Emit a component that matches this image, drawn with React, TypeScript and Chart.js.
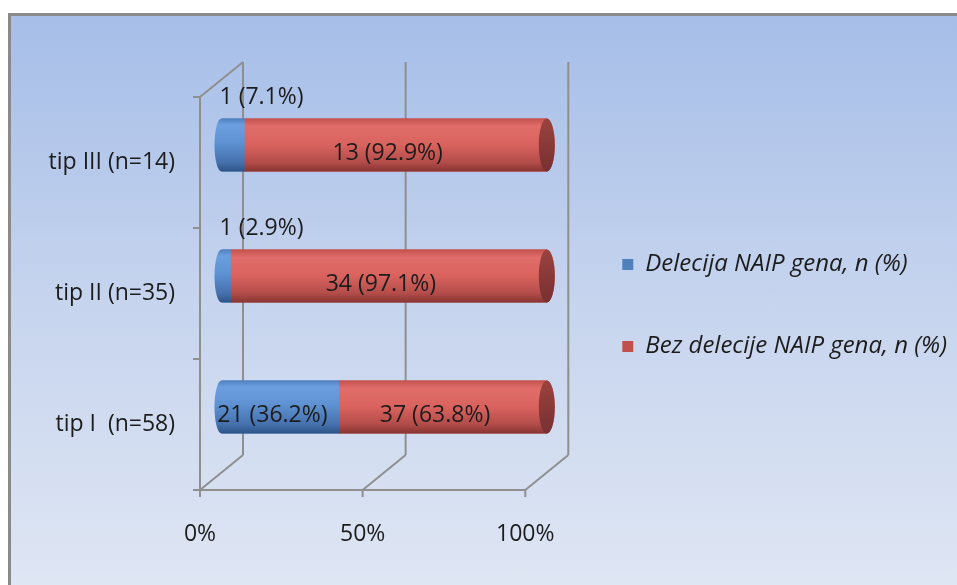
import React, { useEffect, useRef } from 'react';
import { Chart, registerables } from 'chart.js';

Chart.register(...registerables);

// ---------- data ----------
const categories = ['tip III (n=14)', 'tip II (n=35)', 'tip I  (n=58)'];
const seriesNames = ['Delecija NAIP gena, n (%)', 'Bez delecije NAIP gena, n (%)'];
const deletionCounts = [1, 1, 21];
const deletionPercents = [7.1, 2.9, 36.2];
const noDeletionCounts = [13, 34, 37];
const noDeletionPercents = [92.9, 97.1, 63.8];
const xTickValues = [0, 50, 100];

// ---------- styling ----------
const FONT = "'Open Sans', 'Noto Sans', sans-serif";
const TEXT = '#1c1c1c';
const DX = 21.5; // half depth of the 3D box (horizontal)
const DY = 17.5; // half depth of the 3D box (vertical)
const RX = 8; // cylinder end ellipse half width
const WALL = '#8f8f8f';

const seriesColors = ['#4f81bd', '#c0504d'];
const seriesGradients = [
  [
    [0, '#4f7fbe'],
    [0.12, '#6b9fdf'],
    [0.45, '#5e92d2'],
    [0.82, '#4672ae'],
    [1, '#2e5487'],
  ],
  [
    [0, '#c3524f'],
    [0.15, '#e06d69'],
    [0.5, '#d9625e'],
    [0.82, '#b44d4a'],
    [1, '#873532'],
  ],
];
const capGradients = [
  [
    [0, '#3f6aa3'],
    [1, '#2c4f80'],
  ],
  [
    [0, '#9a4340'],
    [1, '#773030'],
  ],
];

const countsBySeries = [deletionCounts, noDeletionCounts];
const percentsBySeries = [deletionPercents, noDeletionPercents];

const fmt = (c: number, p: number) => `${c} (${p.toFixed(1)}%)`;

const boxPlugin = {
  id: 'box3d',
  beforeDatasetsDraw(chart: any) {
    const { ctx, chartArea: a, scales } = chart;
    const x = scales.x;
    const y = scales.y;
    ctx.save();
    ctx.strokeStyle = WALL;
    ctx.lineWidth = 2;
    ctx.lineCap = 'butt';
    const line = (x1: number, y1: number, x2: number, y2: number) => {
      ctx.beginPath();
      ctx.moveTo(x1, y1);
      ctx.lineTo(x2, y2);
      ctx.stroke();
    };
    const pxs = xTickValues.map((v) => x.getPixelForValue(v));
    // back wall gridlines
    pxs.forEach((px) => line(px + DX, a.top - DY, px + DX, a.bottom - DY));
    // floor diagonals
    pxs.forEach((px) => line(px - DX, a.bottom + DY, px + DX, a.bottom - DY));
    // floor front edge
    line(pxs[0] - DX, a.bottom + DY, pxs[pxs.length - 1] - DX, a.bottom + DY);
    // left wall front edge and top diagonal
    line(a.left - DX, a.top + DY, a.left - DX, a.bottom + DY);
    line(a.left - DX, a.top + DY, a.left + DX, a.top - DY);
    // x tick marks
    pxs.forEach((px) => line(px - DX, a.bottom + DY - 1, px - DX, a.bottom + DY + 7));
    // y tick marks at category boundaries
    const n = chart.data.labels.length;
    for (let i = 0; i <= n; i++) {
      const yy = y.getPixelForValue(i - 0.5) + DY;
      line(a.left - DX - 7, yy, a.left - DX + 1, yy);
    }
    ctx.restore();
  },
  afterDatasetsDraw(chart: any) {
    const { ctx } = chart;
    const metas = chart.getSortedVisibleDatasetMetas();
    const n = chart.data.labels.length;
    ctx.save();
    for (let i = 0; i < n; i++) {
      let last: any = null;
      let lastIdx = 0;
      metas.forEach((meta: any, di: number) => {
        const el = meta.data[i];
        const p = el.getProps(['x', 'y', 'base', 'height'], true);
        const left = Math.min(p.base, p.x);
        const right = Math.max(p.base, p.x);
        const ry = p.height / 2;
        const top = p.y - ry;
        const bot = p.y + ry;
        const g = ctx.createLinearGradient(0, top, 0, bot);
        seriesGradients[di].forEach(([o, c]: any) => g.addColorStop(o, c));
        ctx.beginPath();
        if (di === 0) {
          ctx.moveTo(left, bot);
          ctx.ellipse(left, p.y, RX - 1, ry, 0, Math.PI / 2, (3 * Math.PI) / 2);
        } else {
          ctx.moveTo(left, bot);
          ctx.lineTo(left, top);
        }
        ctx.lineTo(right, top);
        ctx.ellipse(right, p.y, RX, ry, 0, -Math.PI / 2, Math.PI / 2);
        ctx.closePath();
        ctx.fillStyle = g;
        ctx.fill();
        last = p;
        lastIdx = di;
      });
      if (last) {
        const ry = last.height / 2;
        const right = Math.max(last.base, last.x);
        const g = ctx.createLinearGradient(0, last.y - ry, 0, last.y + ry);
        capGradients[lastIdx].forEach(([o, c]: any) => g.addColorStop(o, c));
        ctx.beginPath();
        ctx.ellipse(right, last.y, RX, ry, 0, 0, Math.PI * 2);
        ctx.fillStyle = g;
        ctx.fill();
      }
    }
    // data labels
    ctx.font = `23px ${FONT}`;
    ctx.fillStyle = TEXT;
    ctx.textBaseline = 'middle';
    metas.forEach((meta: any, di: number) => {
      meta.data.forEach((el: any, i: number) => {
        const p = el.getProps(['x', 'y', 'base', 'height'], true);
        const pct = percentsBySeries[di][i];
        const txt = fmt(countsBySeries[di][i], pct);
        const left = Math.min(p.base, p.x);
        const right = Math.max(p.base, p.x);
        if (pct < 10) {
          ctx.textAlign = 'left';
          ctx.fillText(txt, left - 2, p.y - p.height / 2 - 21);
        } else {
          ctx.textAlign = 'center';
          ctx.fillText(txt, (left + right) / 2 - 8, p.y + 8);
        }
      });
    });
    ctx.restore();
  },
};

export default function App() {
  const ref = useRef<HTMLCanvasElement | null>(null);
  useEffect(() => {
    if (!ref.current) return;
    const chart = new Chart(ref.current, {
      type: 'bar',
      data: {
        labels: categories,
        datasets: [
          {
            label: seriesNames[0],
            data: deletionPercents,
            backgroundColor: seriesColors[0],
            borderWidth: 0,
            categoryPercentage: 1,
            barPercentage: 0.405,
          },
          {
            label: seriesNames[1],
            data: noDeletionPercents,
            backgroundColor: seriesColors[1],
            borderWidth: 0,
            categoryPercentage: 1,
            barPercentage: 0.405,
          },
        ],
      },
      options: {
        indexAxis: 'y',
        responsive: false,
        animation: false,
        events: [],
        layout: { padding: { top: 10, left: 0, right: 0, bottom: 0 } },
        plugins: {
          tooltip: { enabled: false },
          legend: {
            position: 'right',
            align: 'center',
            maxWidth: 440,
            labels: {
              boxWidth: 11,
              boxHeight: 11,
              padding: 58,
              color: TEXT,
              font: { family: FONT, size: 24, style: 'italic' },
            },
          },
        },
        scales: {
          x: {
            type: 'linear',
            stacked: true,
            min: 0,
            max: 100,
            position: 'bottom',
            afterBuildTicks: (s: any) => {
              s.ticks = xTickValues.map((v) => ({ value: v }));
            },
            ticks: {
              callback: (v: any) => `${v}%`,
              labelOffset: -DX,
              padding: 48,
              maxRotation: 0,
              autoSkip: false,
              color: TEXT,
              font: { family: FONT, size: 23 },
            },
            grid: { display: false, drawTicks: false },
            border: { display: false },
            afterFit: (s: any) => {
              s.height = 112.5;
            },
          },
          xTop: {
            type: 'linear',
            position: 'top',
            display: true,
            ticks: { display: false },
            grid: { display: false, drawTicks: false },
            border: { display: false },
            afterFit: (s: any) => {
              s.height = 53.5;
            },
          },
          y: {
            type: 'category',
            stacked: true,
            position: 'left',
            ticks: {
              labelOffset: DY,
              padding: 46.5,
              color: TEXT,
              font: { family: FONT, size: 23 },
            },
            grid: { display: false, drawTicks: false },
            border: { display: false },
            afterFit: (s: any) => {
              s.width = 210.5;
            },
          },
          yRight: {
            type: 'linear',
            axis: 'y',
            position: 'right',
            display: true,
            ticks: { display: false },
            grid: { display: false, drawTicks: false },
            border: { display: false },
            afterFit: (s: any) => {
              s.width = 17.5;
            },
          },
        },
      } as any,
      plugins: [boxPlugin],
    });
    return () => chart.destroy();
  }, []);

  return (
    <div
      style={{
        position: 'fixed',
        left: 8,
        top: 13,
        width: 949,
        height: 572,
        boxSizing: 'border-box',
        borderLeft: '3px solid #8a8a8a',
        borderTop: '3px solid #8a8a8a',
        background: 'linear-gradient(to bottom, #a6bee8 0%, #c6d4ee 50%, #dfe6f4 100%)',
      }}
    >
      <canvas ref={ref} width={946} height={569} style={{ display: 'block' }} />
    </div>
  );
}
